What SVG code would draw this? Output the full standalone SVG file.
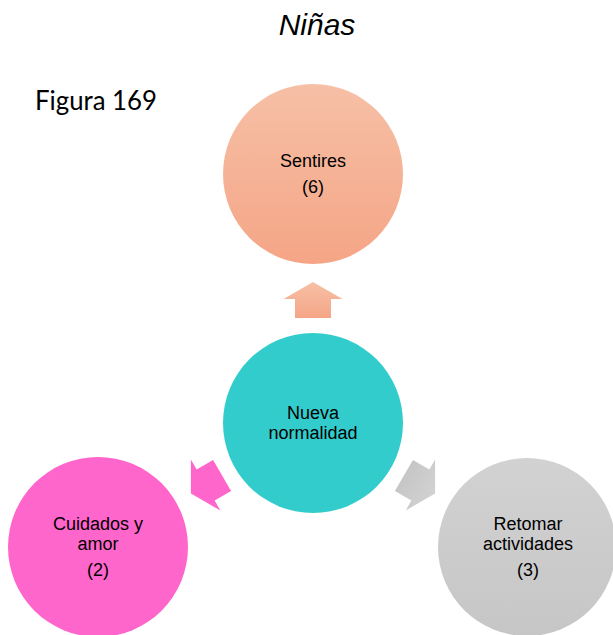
<svg xmlns="http://www.w3.org/2000/svg" width="613" height="635" viewBox="0 0 613 635">
  <defs>
    <linearGradient id="peach" x1="0" y1="0" x2="0" y2="1">
      <stop offset="0" stop-color="#F6C0A6"/>
      <stop offset="1" stop-color="#F5A586"/>
    </linearGradient>
    <linearGradient id="grey" x1="0" y1="0" x2="0" y2="1">
      <stop offset="0" stop-color="#D2D2D2"/>
      <stop offset="1" stop-color="#C6C6C6"/>
    </linearGradient>
    <path id="arrow" d="M0,-18 L29.5,-1 L18,-1 L18,18 L-18,18 L-18,-1 L-29.5,-1 Z"/>
  </defs>
  <style>
    .lbl { font-family: "Liberation Sans", Arial, sans-serif; font-size: 18px; fill: #000; text-anchor: middle; }
  </style>
  <rect width="613" height="635" fill="#FFFFFF"/>
  <text x="317" y="35" font-family="Liberation Sans, Arial, sans-serif" font-style="italic" font-size="30" text-anchor="middle" fill="#000">Niñas</text>
  <text x="35" y="110" font-family="Lato, 'Open Sans', sans-serif" font-size="26" textLength="122" lengthAdjust="spacingAndGlyphs" fill="#000">Figura 169</text>

  <g id="connectors">
    <use href="#arrow" transform="translate(313,300)" fill="url(#peach)"/>
    <use href="#arrow" transform="translate(206.5,484.5) rotate(-120)" fill="#FF66CC"/>
    <use href="#arrow" transform="translate(419.5,484.5) rotate(120)" fill="url(#grey)"/>
  </g>

  <g id="sentires">
    <circle cx="313" cy="174" r="90" fill="url(#peach)"/>
    <text class="lbl" x="313" y="167">Sentires</text>
    <text class="lbl" x="313" y="193">(6)</text>
  </g>
  <g id="nueva-normalidad">
    <circle cx="313" cy="423" r="90" fill="#33CCCC"/>
    <text class="lbl" x="313" y="419">Nueva</text>
    <text class="lbl" x="313" y="439">normalidad</text>
  </g>
  <g id="cuidados">
    <circle cx="98" cy="547" r="90" fill="#FF66CC"/>
    <text class="lbl" x="98" y="530">Cuidados y</text>
    <text class="lbl" x="98" y="550">amor</text>
    <text class="lbl" x="98" y="576">(2)</text>
  </g>
  <g id="retomar">
    <circle cx="527" cy="547" r="89" fill="url(#grey)"/>
    <text class="lbl" x="528" y="530">Retomar</text>
    <text class="lbl" x="528" y="550">actividades</text>
    <text class="lbl" x="528" y="576">(3)</text>
  </g>
</svg>
